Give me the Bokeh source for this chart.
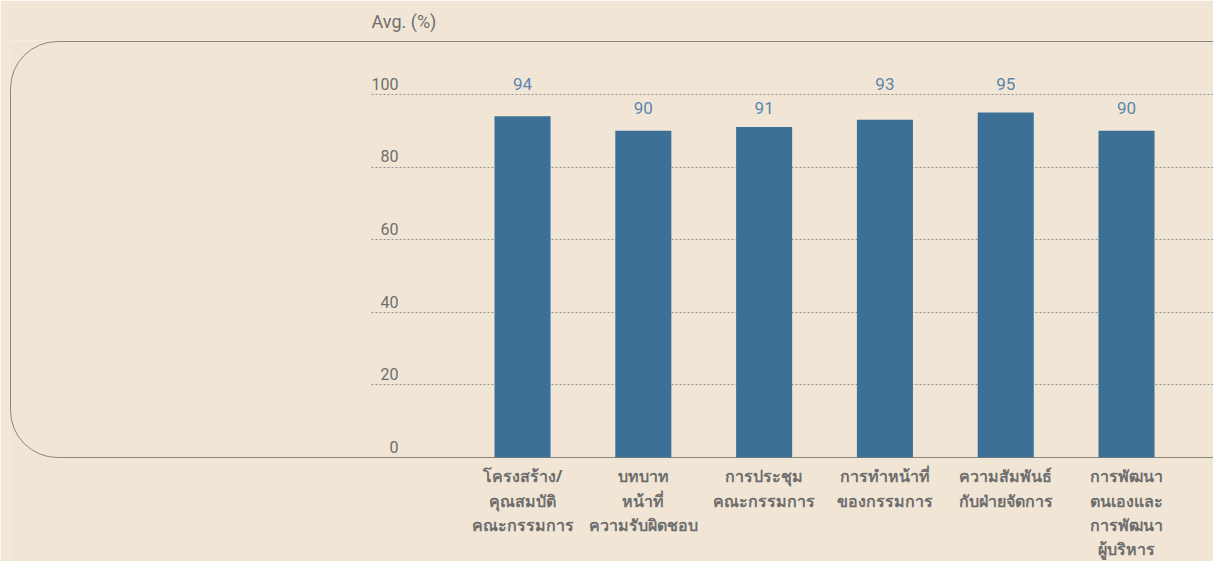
from bokeh.plotting import figure
from bokeh.models import Range1d, LinearAxis, FixedTicker, BoxAnnotation
from bokeh.core.properties import value
from bokeh.embed import file_html
from bokeh.resources import INLINE

# ---- data ----
categories = [
    "โครงสร้าง/\nคุณสมบัติ\nคณะกรรมการ",
    "บทบาท\nหน้าที่\nความรับผิดชอบ",
    "การประชุม\nคณะกรรมการ",
    "การทำหน้าที่\nของกรรมการ",
    "ความสัมพันธ์\nกับฝ่ายจัดการ",
    "การพัฒนา\nตนเองและ\nการพัฒนา\nผู้บริหาร",
]
scores = [94, 90, 91, 93, 95, 90]
y_ticks = [0, 20, 40, 60, 80, 100]
y_title = "Avg. (%)"

# ---- style / layout ----
BG = "#f1e6d6"
BAR = "#3d7096"
VAL = "#5b87ad"
TXT = "#6e6e6e"
LINE = "#8c8577"
GRID = "#8f8f8f"

W, H = 1213, 561
PX_X = 120.8          # pixels per category
PX_Y = 3.63           # pixels per percent
X_START, X_END = -4.247, 5.72
Y_START, Y_END = -28.65, 114.85
AXIS_X = -1.25        # where the value axis sits
LAB_SHIFT = 2.9       # tick labels sit above their gridline

xs = list(range(len(categories)))

p = figure(width=W, height=H, output_backend="svg", toolbar_location=None,
           x_range=Range1d(X_START, X_END), y_range=Range1d(Y_START, Y_END),
           min_border_left=9, min_border_right=0, min_border_top=40, min_border_bottom=0,
           background_fill_color=BG, border_fill_color=BG, outline_line_color=None,
           title=y_title)

p.title.text_font = "Roboto"
p.title.text_font_size = "18px"
p.title.text_font_style = "normal"
p.title.text_color = TXT
p.title.align = "left"
p.title.offset = 362
p.title.standoff = 17

# rounded frame
box = BoxAnnotation(left=X_START + 1.0 / PX_X, right=X_END + 2,
                    top=Y_END - 1.0 / PX_Y, bottom=0,
                    fill_alpha=0, line_color=LINE, line_alpha=1.0, line_width=1,
                    border_radius=47, level="underlay")
p.add_layout(box)

p.xgrid.visible = False
p.ygrid.visible = False
p.yaxis.visible = False

# dotted gridlines drawn as long inward ticks of an axis placed at the value-axis position
grid_axis = LinearAxis(ticker=FixedTicker(ticks=[t for t in y_ticks if t > 0]),
                       fixed_location=AXIS_X,
                       axis_line_color=None, minor_tick_line_color=None,
                       major_tick_in=1000, major_tick_out=0,
                       major_tick_line_color=GRID, major_tick_line_dash="2 2",
                       major_tick_line_width=1,
                       major_label_text_alpha=0, major_label_text_font_size="1px",
                       level="underlay")
p.add_layout(grid_axis, "left")

p.vbar(x=xs, bottom=0, top=scores, width=0.464, color=BAR, line_color=None)

lab_y = [96.2 if v < 92 else 103 for v in scores]
p.text(x=xs, y=lab_y, text=[str(v) for v in scores], text_align="center",
       text_baseline="middle", text_font=value("Roboto"), text_font_size="17px",
       text_color=VAL)

# tick labels: axis on a range shifted so labels sit above lines
p.extra_y_ranges = {"lab": Range1d(Y_START - LAB_SHIFT, Y_END - LAB_SHIFT)}
lab_axis = LinearAxis(y_range_name="lab", ticker=FixedTicker(ticks=y_ticks),
                      fixed_location=AXIS_X,
                      axis_line_color=None, major_tick_line_color=None,
                      minor_tick_line_color=None, major_tick_out=0, major_tick_in=0,
                      major_label_standoff=-27,
                      major_label_text_font="Roboto", major_label_text_font_size="16px",
                      major_label_text_color=TXT)
p.add_layout(lab_axis, "left")

# x axis, pinned at the 0 line (inside the frame, which reaches the canvas bottom)
p.xaxis.fixed_location = 0
p.xaxis.ticker = FixedTicker(ticks=xs)
p.xaxis.major_label_overrides = {i: c for i, c in zip(xs, categories)}
p.xaxis.axis_line_color = None
p.xaxis.major_tick_line_color = None
p.xaxis.minor_tick_line_color = None
p.xaxis.major_tick_out = 0
p.xaxis.major_tick_in = 0
p.xaxis.major_label_standoff = 8
p.xaxis.major_label_text_font = "Noto Sans"
p.xaxis.major_label_text_font_style = "bold"
p.xaxis.major_label_text_font_size = "16px"
p.xaxis.major_label_text_color = TXT
p.xaxis.major_label_text_line_height = 1.1

open("out.html", "w").write(file_html(p, INLINE))
